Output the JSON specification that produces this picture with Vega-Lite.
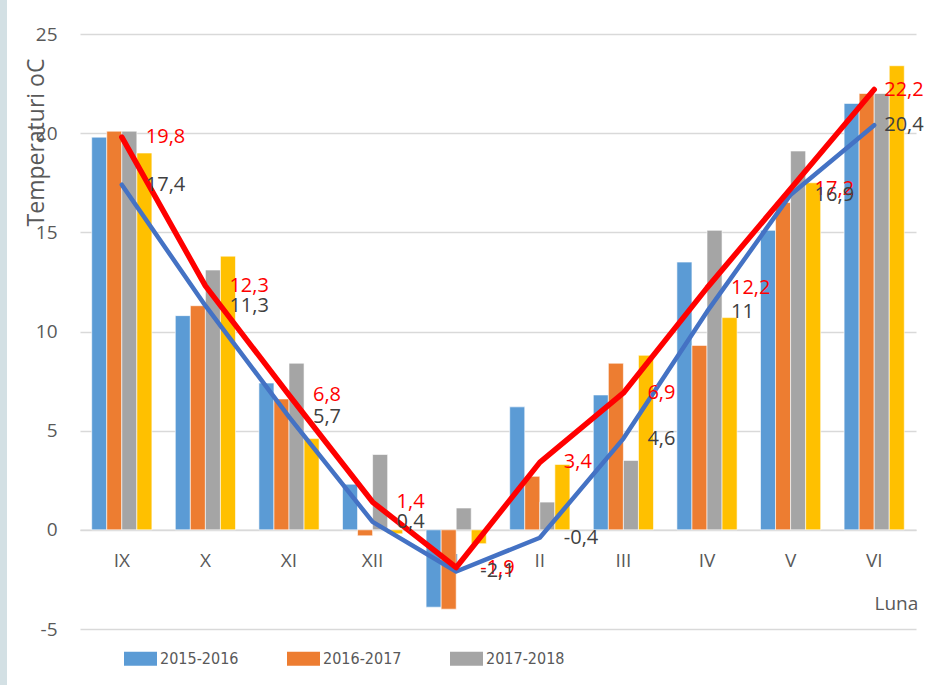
{
  "$schema": "https://vega.github.io/schema/vega-lite/v6.json",
  "width": 836,
  "height": 595,
  "autosize": {"type": "none"},
  "padding": {"left": 80, "top": 34, "right": 10, "bottom": 56},
  "background": "#D3E0E4",
  "config": {
    "view": {"stroke": "white", "strokeWidth": 146, "fill": "white"},
    "font": "Open Sans",
    "locale": {"number": {"decimal": ",", "thousands": ".", "grouping": [3], "currency": ["", ""], "minus": "-"}}
  },
  "datasets": {
    "bars": [
      {"luna": "IX", "sezon": "2015-2016", "t": 19.8}, {"luna": "IX", "sezon": "2016-2017", "t": 20.1}, {"luna": "IX", "sezon": "2017-2018", "t": 20.1}, {"luna": "IX", "sezon": "2018-2019", "t": 19.0},
      {"luna": "X", "sezon": "2015-2016", "t": 10.8}, {"luna": "X", "sezon": "2016-2017", "t": 11.3}, {"luna": "X", "sezon": "2017-2018", "t": 13.1}, {"luna": "X", "sezon": "2018-2019", "t": 13.8},
      {"luna": "XI", "sezon": "2015-2016", "t": 7.4}, {"luna": "XI", "sezon": "2016-2017", "t": 6.6}, {"luna": "XI", "sezon": "2017-2018", "t": 8.4}, {"luna": "XI", "sezon": "2018-2019", "t": 4.6},
      {"luna": "XII", "sezon": "2015-2016", "t": 2.3}, {"luna": "XII", "sezon": "2016-2017", "t": -0.3}, {"luna": "XII", "sezon": "2017-2018", "t": 3.8}, {"luna": "XII", "sezon": "2018-2019", "t": -0.2},
      {"luna": "I", "sezon": "2015-2016", "t": -3.9}, {"luna": "I", "sezon": "2016-2017", "t": -4.0}, {"luna": "I", "sezon": "2017-2018", "t": 1.1}, {"luna": "I", "sezon": "2018-2019", "t": -0.7},
      {"luna": "II", "sezon": "2015-2016", "t": 6.2}, {"luna": "II", "sezon": "2016-2017", "t": 2.7}, {"luna": "II", "sezon": "2017-2018", "t": 1.4}, {"luna": "II", "sezon": "2018-2019", "t": 3.3},
      {"luna": "III", "sezon": "2015-2016", "t": 6.8}, {"luna": "III", "sezon": "2016-2017", "t": 8.4}, {"luna": "III", "sezon": "2017-2018", "t": 3.5}, {"luna": "III", "sezon": "2018-2019", "t": 8.8},
      {"luna": "IV", "sezon": "2015-2016", "t": 13.5}, {"luna": "IV", "sezon": "2016-2017", "t": 9.3}, {"luna": "IV", "sezon": "2017-2018", "t": 15.1}, {"luna": "IV", "sezon": "2018-2019", "t": 10.7},
      {"luna": "V", "sezon": "2015-2016", "t": 15.1}, {"luna": "V", "sezon": "2016-2017", "t": 16.5}, {"luna": "V", "sezon": "2017-2018", "t": 19.1}, {"luna": "V", "sezon": "2018-2019", "t": 17.5},
      {"luna": "VI", "sezon": "2015-2016", "t": 21.5}, {"luna": "VI", "sezon": "2016-2017", "t": 22.0}, {"luna": "VI", "sezon": "2017-2018", "t": 22.0}, {"luna": "VI", "sezon": "2018-2019", "t": 23.4}
    ],
    "lines": [
      {"luna": "IX", "serie": "rosu", "t": 19.8}, {"luna": "X", "serie": "rosu", "t": 12.3}, {"luna": "XI", "serie": "rosu", "t": 6.8}, {"luna": "XII", "serie": "rosu", "t": 1.4}, {"luna": "I", "serie": "rosu", "t": -1.9},
      {"luna": "II", "serie": "rosu", "t": 3.4}, {"luna": "III", "serie": "rosu", "t": 6.9}, {"luna": "IV", "serie": "rosu", "t": 12.2}, {"luna": "V", "serie": "rosu", "t": 17.2}, {"luna": "VI", "serie": "rosu", "t": 22.2},
      {"luna": "IX", "serie": "albastru", "t": 17.4}, {"luna": "X", "serie": "albastru", "t": 11.3}, {"luna": "XI", "serie": "albastru", "t": 5.7}, {"luna": "XII", "serie": "albastru", "t": 0.4}, {"luna": "I", "serie": "albastru", "t": -2.1},
      {"luna": "II", "serie": "albastru", "t": -0.4}, {"luna": "III", "serie": "albastru", "t": 4.6}, {"luna": "IV", "serie": "albastru", "t": 11}, {"luna": "V", "serie": "albastru", "t": 16.9}, {"luna": "VI", "serie": "albastru", "t": 20.4}
    ]
  },
  "encoding": {
    "x": {
      "field": "luna", "type": "nominal",
      "sort": ["IX", "X", "XI", "XII", "I", "II", "III", "IV", "V", "VI"],
      "scale": {"paddingInner": 0.28, "paddingOuter": 0.14},
      "axis": {
        "orient": "bottom", "offset": -99.2, "domain": true, "domainColor": "#d9d9d9", "domainWidth": 1.5,
        "ticks": false, "grid": false, "labelAngle": 0, "labelFontSize": 19, "labelColor": "#595959",
        "labelBaseline": "middle", "labelPadding": 31,
        "title": "Luna", "titleFontSize": 19, "titleFontWeight": "normal", "titleColor": "#595959",
        "titleX": 794, "titleY": 74, "titleAlign": "left", "titleBaseline": "middle"
      }
    },
    "y": {
      "field": "t", "type": "quantitative",
      "scale": {"domain": [-5, 25], "nice": false},
      "axis": {
        "values": [-5, 0, 5, 10, 15, 20, 25], "domain": false, "ticks": false, "grid": true,
        "gridColor": "#d9d9d9", "gridWidth": 1.5, "labelFontSize": 19, "labelColor": "#595959", "labelPadding": 23,
        "title": "Temperaturi oC", "titleFontSize": 23, "titleFontWeight": "normal", "titleColor": "#595959",
        "titleX": -44, "titleY": 108, "titleAngle": -90, "titleAlign": "center", "titleBaseline": "middle"
      }
    }
  },
  "layer": [
    {
      "data": {"name": "bars"},
      "mark": {"type": "bar", "stroke": "white", "strokeWidth": 0.6},
      "encoding": {
        "xOffset": {"field": "sezon", "type": "nominal", "sort": ["2015-2016", "2016-2017", "2017-2018", "2018-2019"], "scale": {"paddingInner": 0, "paddingOuter": 0}},
        "color": {
          "field": "sezon", "type": "nominal",
          "scale": {"domain": ["2015-2016", "2016-2017", "2017-2018", "2018-2019"], "range": ["#5B9BD5", "#ED7D31", "#A5A5A5", "#FFC000"]},
          "legend": {
            "orient": "none", "legendX": 44, "legendY": 608, "direction": "horizontal",
            "values": ["2015-2016", "2016-2017", "2017-2018"], "title": null,
            "symbolType": "M-1,-0.42H1V0.42H-1Z", "symbolSize": 1089, "symbolStrokeWidth": 0, "symbolOpacity": 1,
            "labelFont": "DejaVu Sans Condensed, Liberation Sans, sans-serif", "labelFontSize": 16, "labelColor": "#595959",
            "labelOffset": 3, "columnPadding": 48, "padding": 0
          }
        }
      }
    },
    {
      "data": {"name": "lines"},
      "transform": [{"filter": "datum.serie == 'albastru'"}],
      "mark": {"type": "line", "color": "#4472C4", "strokeWidth": 4.5, "strokeCap": "round", "strokeJoin": "round"},
      "encoding": {}
    },
    {
      "data": {"name": "lines"},
      "transform": [{"filter": "datum.serie == 'rosu'"}],
      "mark": {"type": "line", "color": "#FF0000", "strokeWidth": 5.5, "strokeCap": "round", "strokeJoin": "round"},
      "encoding": {}
    },
    {
      "data": {"name": "lines"},
      "transform": [{"filter": "datum.serie == 'rosu' && datum.luna != 'VI'"}],
      "mark": {"type": "text", "color": "#FF0000", "align": "left", "baseline": "middle", "dx": 24, "fontSize": 20},
      "encoding": {"text": {"field": "t", "type": "quantitative", "format": ".1~f"}}
    },
    {
      "data": {"name": "lines"},
      "transform": [{"filter": "datum.serie == 'rosu' && datum.luna == 'VI'"}],
      "mark": {"type": "text", "color": "#FF0000", "align": "left", "baseline": "middle", "dx": 10, "fontSize": 20},
      "encoding": {"text": {"field": "t", "type": "quantitative", "format": ".1~f"}}
    },
    {
      "data": {"name": "lines"},
      "transform": [{"filter": "datum.serie == 'albastru' && datum.luna != 'VI'"}],
      "mark": {"type": "text", "color": "#404040", "align": "left", "baseline": "middle", "dx": 24, "fontSize": 20},
      "encoding": {"text": {"field": "t", "type": "quantitative", "format": ".1~f"}}
    },
    {
      "data": {"name": "lines"},
      "transform": [{"filter": "datum.serie == 'albastru' && datum.luna == 'VI'"}],
      "mark": {"type": "text", "color": "#404040", "align": "left", "baseline": "middle", "dx": 10, "fontSize": 20},
      "encoding": {"text": {"field": "t", "type": "quantitative", "format": ".1~f"}}
    }
  ]
}
